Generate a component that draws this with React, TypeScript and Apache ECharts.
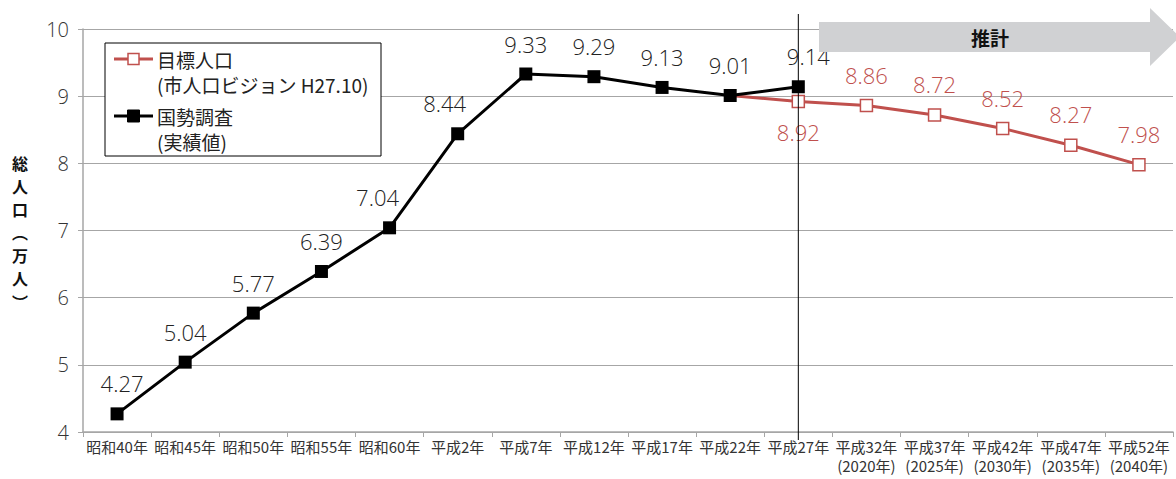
import React, { useEffect, useRef } from "react";
import * as echarts from "echarts";

const categories = [
  "昭和40年", "昭和45年", "昭和50年", "昭和55年", "昭和60年", "平成2年", "平成7年",
  "平成12年", "平成17年", "平成22年", "平成27年",
  "平成32年\n(2020年)", "平成37年\n(2025年)", "平成42年\n(2030年)", "平成47年\n(2035年)", "平成52年\n(2040年)",
];
const censusValues = [4.27, 5.04, 5.77, 6.39, 7.04, 8.44, 9.33, 9.29, 9.13, 9.01, 9.14];
const targetValues = [null, null, null, null, null, null, null, null, null, 9.01, 8.92, 8.86, 8.72, 8.52, 8.27, 7.98];
const yTicks = { min: 4, max: 10, interval: 1 };
const censusName = "国勢調査";
const censusSub = "(実績値)";
const targetName = "目標人口";
const targetSub = "(市人口ビジョン H27.10)";
const estimateLabel = "推計";
const yAxisNameChars = ["総", "人", "口", "︵", "万", "人", "︶"];
const dividerCategory = "平成27年";

const RED = "#c0504d";
const BLACK = "#000000";
const FONT = "'Noto Sans CJK JP', 'Noto Sans', sans-serif";
const NUM_FONT = "'Open Sans', 'Noto Sans', sans-serif";

export default function App() {
  const ref = useRef<HTMLDivElement>(null);
  useEffect(() => {
    if (!ref.current) return;
    const chart = echarts.init(ref.current, null, { renderer: "svg" });
    const labelShift: Record<number, number> = { 0: 5, 5: -13, 4: -12, 10: 10 };
    const censusData = censusValues.map((v, i) => ({
      value: v,
      label: { offset: [labelShift[i] || 0, 0] },
    }));
    const targetData = targetValues.map((v, i) => {
      if (v === null) return null;
      if (i === 9) return { value: v, label: { show: false }, symbolSize: 0 };
      if (i === 10) return { value: v, label: { position: "bottom", distance: 13 } };
      return { value: v };
    });
    const dataLabel = {
      show: true,
      position: "top",
      distance: 13,
      fontSize: 22,
      fontWeight: 300,
      fontFamily: NUM_FONT,
      formatter: (p: any) => Number(p.value).toFixed(2),
    };
    const option: any = {
      animation: false,
      textStyle: { fontFamily: FONT },
      grid: { left: 83, right: 3, top: 29, bottom: 47 },
      xAxis: {
        type: "category",
        data: categories,
        boundaryGap: true,
        axisLine: { lineStyle: { color: "#a6a6a6", width: 1.5 } },
        axisTick: { show: true, length: 5, lineStyle: { color: "#a6a6a6" } },
        axisLabel: { interval: 0, color: "#333", fontSize: 15, margin: 5, lineHeight: 19, fontFamily: FONT },
        splitLine: { show: false },
      },
      yAxis: {
        type: "value",
        min: yTicks.min,
        max: yTicks.max,
        interval: yTicks.interval,
        axisLine: { show: true, lineStyle: { color: "#a6a6a6", width: 1.5 } },
        axisTick: { show: true, length: 5, lineStyle: { color: "#a6a6a6" } },
        axisLabel: { color: "#333", fontSize: 20, fontWeight: 300, margin: 14, fontFamily: NUM_FONT },
        splitLine: { lineStyle: { color: "#a6a6a6", width: 1 } },
      },
      series: [
        {
          name: targetName,
          type: "line",
          data: targetData,
          connectNulls: false,
          symbol: "rect",
          symbolSize: 12,
          lineStyle: { color: RED, width: 3 },
          itemStyle: { color: "#ffffff", borderColor: RED, borderWidth: 1.5 },
          label: { ...dataLabel, color: RED },
          z: 2,
        },
        {
          name: censusName,
          type: "line",
          data: censusData,
          symbol: "rect",
          symbolSize: 13,
          lineStyle: { color: BLACK, width: 3 },
          itemStyle: { color: BLACK },
          label: { ...dataLabel, color: "#222" },
          z: 3,
        },
      ],
    };
    chart.setOption(option);

    const xDiv = chart.convertToPixel({ xAxisIndex: 0 }, dividerCategory) as number;
    const lf = `normal 19px ${FONT}`;
    const nameY = [163, 186, 209, 232, 255, 278, 302];
    const nameEls = yAxisNameChars.map((c, i) => ({
      type: "text",
      x: 20,
      y: nameY[i],
      style: {
        text: c,
        font: `bold 16px ${FONT}`,
        fill: "#111",
        textAlign: "center",
        textVerticalAlign: "middle",
      },
      z: 101,
    }));
    chart.setOption({
      graphic: [
        // legend
        {
          type: "rect",
          shape: { x: 105, y: 43, width: 276, height: 113 },
          style: { fill: "#fff", stroke: "#000", lineWidth: 1 },
          z: 100,
        },
        { type: "line", shape: { x1: 114, y1: 59, x2: 153, y2: 59 }, style: { stroke: RED, lineWidth: 3 }, z: 101 },
        { type: "rect", shape: { x: 128, y: 53.5, width: 11, height: 11 }, style: { fill: "#fff", stroke: RED, lineWidth: 1.5 }, z: 102 },
        { type: "text", x: 157, y: 59, style: { text: targetName, font: lf, fill: "#222", textVerticalAlign: "middle" }, z: 101 },
        { type: "text", x: 157, y: 84, style: { text: targetSub, font: lf, fill: "#222", textVerticalAlign: "middle" }, z: 101 },
        { type: "line", shape: { x1: 114, y1: 116, x2: 153, y2: 116 }, style: { stroke: BLACK, lineWidth: 3 }, z: 101 },
        { type: "rect", shape: { x: 127.5, y: 110, width: 12, height: 12 }, style: { fill: BLACK, stroke: BLACK }, z: 102 },
        { type: "text", x: 157, y: 116, style: { text: censusName, font: lf, fill: "#222", textVerticalAlign: "middle" }, z: 101 },
        { type: "text", x: 157, y: 141, style: { text: censusSub, font: lf, fill: "#222", textVerticalAlign: "middle" }, z: 101 },
        // estimate arrow
        {
          type: "polygon",
          shape: {
            points: [
              [819, 22], [1150, 22], [1150, 8], [1180, 37], [1150, 66], [1150, 52], [819, 52],
            ],
          },
          style: { fill: "#d0d1d3" },
          z: 90,
        },
        {
          type: "text",
          x: 990,
          y: 37,
          style: { text: estimateLabel, font: `bold 19px ${FONT}`, fill: "#111", textAlign: "center", textVerticalAlign: "middle" },
          z: 91,
        },
        // divider line
        {
          type: "line",
          shape: { x1: xDiv, y1: 14, x2: xDiv, y2: 440 },
          style: { stroke: "#000", lineWidth: 1 },
          z: 95,
        },
        ...nameEls,
      ],
    });
    return () => chart.dispose();
  }, []);
  return <div ref={ref} style={{ width: 1176, height: 479, position: "absolute", left: 0, top: 0 }} />;
}
